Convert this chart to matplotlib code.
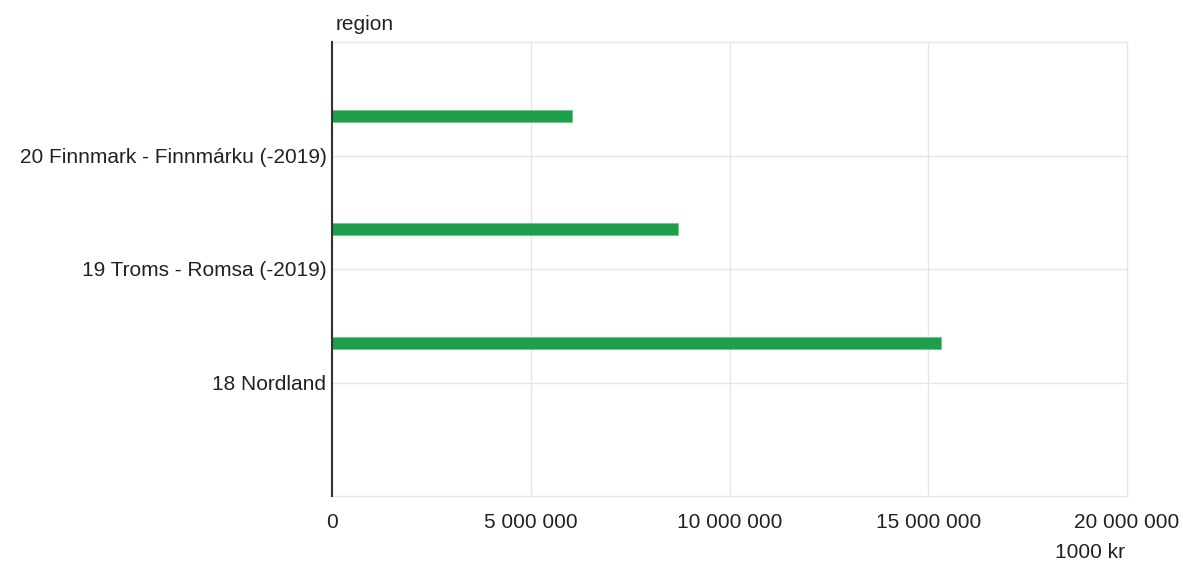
import matplotlib.pyplot as plt
import numpy as np

plt.rcParams['font.family'] = ['Liberation Sans', 'DejaVu Sans']

# data (1000 kr)
regions = ['18 Nordland', '19 Troms - Romsa (-2019)', '20 Finnmark - Finnmárku (-2019)']
values = [15330000, 8710000, 6045000]
xticks = [0, 5000000, 10000000, 15000000, 20000000]
xtick_labels = ['0', '5 000 000', '10 000 000', '15 000 000', '20 000 000']

text_color = '#222222'
grid_color = '#e6e6e6'
fs = 15

fig = plt.figure(figsize=(11.83, 5.65), dpi=100)
ax = fig.add_axes([332 / 1183, 1 - 496 / 565, (1127 - 332) / 1183, (496 - 42) / 565])

y = np.arange(len(regions))
ax.barh(y + 0.35, values, height=0.106, color='#1f9e4b', edgecolor='#6fc48a',
        linewidth=0.6, zorder=3)

ax.set_xlim(0, 20000000)
ax.set_ylim(-1, 3)
ax.set_xticks(xticks)
ax.set_xticklabels(xtick_labels)
ax.set_yticks(np.arange(-1, 4))
ax.set_yticklabels([''] + regions + [''])

ax.grid(True, color=grid_color, linewidth=1, zorder=0)
for line in ax.get_xgridlines() + ax.get_ygridlines():
    line.set_clip_on(False)
ax.tick_params(length=0, labelsize=fs, colors=text_color)
ax.tick_params(axis='x', pad=12)
ax.tick_params(axis='y', pad=4)
for s in ['top', 'right', 'bottom']:
    ax.spines[s].set_visible(False)
ax.spines['left'].set_color('#333333')
ax.spines['left'].set_linewidth(1.5)
ax.spines['left'].set_zorder(4)

fig.text(336 / 1183, 1 - 25 / 565, 'region', fontsize=fs, color=text_color,
         ha='left', va='center')
fig.text(1125 / 1183, 1 - 553 / 565, '1000 kr', fontsize=fs, color=text_color,
         ha='right', va='center')

fig.savefig('out.png', dpi=100)
